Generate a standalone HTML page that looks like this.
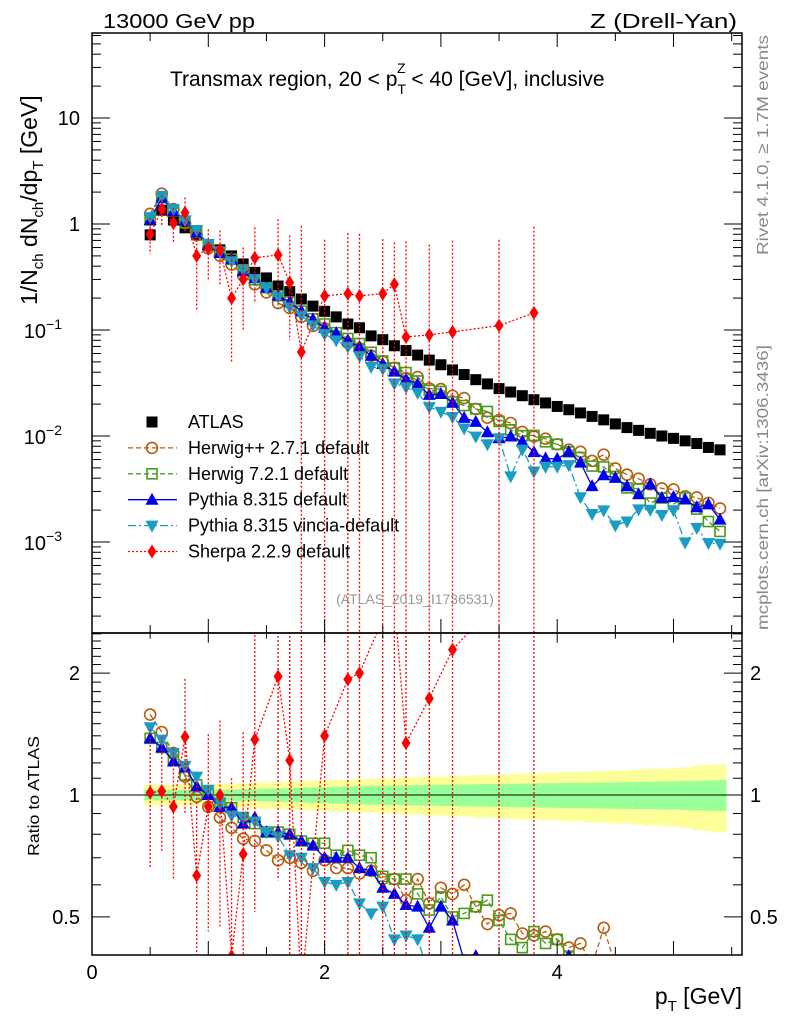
<!DOCTYPE html>
<html><head><meta charset="utf-8">
<style>
html,body{margin:0;padding:0;background:#fff;width:786px;height:1024px;overflow:hidden;}
svg{display:block;font-family:"Liberation Sans",sans-serif;}
</style></head>
<body>
<svg id="chart" width="786" height="1024" viewBox="0 0 786 1024" xmlns="http://www.w3.org/2000/svg" overflow="hidden">
<defs>
<clipPath id="clipMain"><rect x="92" y="33" width="650" height="600"/></clipPath>
<clipPath id="clipRatio"><rect x="92" y="633" width="650" height="322"/></clipPath>
</defs>
<rect x="0" y="0" width="786" height="1024" fill="#fff"/>
<g id="bandLayer" clip-path="url(#clipRatio)"></g>
<line x1="92" y1="795" x2="742" y2="795" stroke="#000" stroke-width="1"/>
<g id="mainLayer" clip-path="url(#clipMain)"></g>
<g id="ratioLayer" clip-path="url(#clipRatio)"></g>
<g id="axisLayer"></g>
<rect x="92" y="33" width="650" height="600" fill="none" stroke="#000" stroke-width="1.5"/>
<rect x="92" y="633" width="650" height="322" fill="none" stroke="#000" stroke-width="1.5"/>

<text x="103" y="28" font-size="20" textLength="152" lengthAdjust="spacingAndGlyphs">13000 GeV pp</text>
<text x="590" y="28" font-size="20" textLength="147" lengthAdjust="spacingAndGlyphs">Z (Drell-Yan)</text>
<text x="170" y="86" font-size="21">Transmax region, 20 &lt; p<tspan font-size="14" dy="8">T</tspan><tspan font-size="14" dx="-9" dy="-21">Z</tspan><tspan dy="13"> &lt; 40 [GeV], inclusive</tspan></text>
<text transform="translate(37,305) rotate(-90)" font-size="23">1/N<tspan font-size="15" dy="6">ch</tspan><tspan dy="-6"> dN</tspan><tspan font-size="15" dy="6">ch</tspan><tspan dy="-6">/dp</tspan><tspan font-size="15" dy="6">T</tspan><tspan dy="-6"> [GeV]</tspan></text>
<text transform="translate(39,856) rotate(-90)" font-size="16" textLength="120" lengthAdjust="spacingAndGlyphs">Ratio to ATLAS</text>
<text x="742" y="1004" font-size="23" text-anchor="end">p<tspan font-size="15" dy="7">T</tspan><tspan dy="-7"> [GeV]</tspan></text>
<text transform="translate(768,255) rotate(-90)" font-size="16" fill="#888" textLength="220" lengthAdjust="spacingAndGlyphs">Rivet 4.1.0, ≥ 1.7M events</text>
<text transform="translate(768,630) rotate(-90)" font-size="16" fill="#888" textLength="285" lengthAdjust="spacingAndGlyphs">mcplots.cern.ch [arXiv:1306.3436]</text>
<text x="415" y="604" font-size="14" fill="#999" text-anchor="middle">(ATLAS_2019_I1736531)</text>

<g id="legend"></g>

<script>
// ---- data ----
const atlasX = [0.5,0.6,0.7,0.8,0.9,1.0,1.1,1.2,1.3,1.4,1.5,1.6,1.7,1.8,1.9,2.0,2.1,2.2,2.3,2.4,2.5,2.6,2.7,2.8,2.9,3.0,3.1,3.2,3.3,3.4,3.5,3.6,3.7,3.8,3.9,4.0,4.1,4.2,4.3,4.4,4.5,4.6,4.7,4.8,4.9,5.0,5.1,5.2,5.3,5.4];
const atlasY = [0.79,1.35,1.09,0.92,0.79,0.63,0.57,0.50,0.42,0.35,0.31,0.26,0.23,0.196,0.168,0.15,0.133,0.114,0.105,0.088,0.081,0.071,0.064,0.058,0.052,0.047,0.042,0.038,0.034,0.031,0.028,0.026,0.024,0.022,0.0205,0.019,0.0177,0.0165,0.0153,0.0142,0.013,0.012,0.0113,0.0106,0.0100,0.0095,0.0090,0.0085,0.0078,0.0074];
const atlasTotRel = [0.06,0.06,0.06,0.06,0.06,0.06,0.065,0.065,0.07,0.07,0.075,0.075,0.08,0.08,0.085,0.085,0.09,0.09,0.095,0.095,0.10,0.10,0.105,0.105,0.11,0.11,0.115,0.115,0.12,0.12,0.125,0.125,0.13,0.13,0.135,0.135,0.14,0.14,0.145,0.145,0.15,0.15,0.155,0.16,0.16,0.165,0.17,0.18,0.185,0.19];
const atlasStatRel = [0.03,0.03,0.03,0.03,0.03,0.03,0.032,0.032,0.034,0.034,0.036,0.038,0.04,0.042,0.044,0.046,0.048,0.05,0.052,0.054,0.055,0.056,0.057,0.058,0.059,0.06,0.061,0.062,0.063,0.064,0.065,0.066,0.067,0.068,0.069,0.07,0.071,0.072,0.073,0.074,0.075,0.076,0.077,0.078,0.079,0.08,0.082,0.084,0.086,0.088];
const herwigppRatio = [1.58,1.43,1.27,1.11,0.99,0.935,0.88,0.83,0.78,0.77,0.73,0.69,0.70,0.68,0.65,0.69,0.66,0.66,0.64,0.65,0.62,0.62,0.55,0.62,0.54,0.59,0.57,0.60,0.53,0.48,0.505,0.51,0.455,0.45,0.46,0.44,0.42,0.43,0.38,0.47,0.38,0.36,0.35,0.33,0.32,0.33,0.30,0.31,0.30,0.28];
const herwig7Ratio = [1.38,1.31,1.22,1.12,1.06,1.01,0.955,0.93,0.88,0.85,0.81,0.81,0.80,0.77,0.76,0.76,0.71,0.73,0.71,0.70,0.63,0.62,0.62,0.57,0.52,0.56,0.50,0.51,0.53,0.55,0.49,0.44,0.42,0.46,0.43,0.44,0.40,0.38,0.34,0.36,0.32,0.27,0.28,0.22,0.26,0.24,0.29,0.24,0.20,0.17];
const pythiaRatio = [1.38,1.31,1.21,1.17,1.05,1.0,0.935,0.93,0.85,0.88,0.81,0.81,0.80,0.77,0.75,0.70,0.70,0.70,0.66,0.65,0.59,0.57,0.535,0.53,0.47,0.53,0.49,0.39,0.40,0.35,0.34,0.38,0.37,0.32,0.30,0.32,0.40,0.34,0.22,0.30,0.31,0.28,0.25,0.33,0.26,0.28,0.28,0.25,0.29,0.22];
const vinciaRatio = [1.47,1.37,1.27,1.18,1.11,1.03,0.955,0.89,0.88,0.86,0.81,0.79,0.71,0.70,0.66,0.61,0.60,0.61,0.54,0.51,0.53,0.44,0.45,0.44,0.36,0.36,0.36,0.31,0.29,0.27,0.34,0.16,0.31,0.21,0.25,0.27,0.30,0.16,0.12,0.14,0.11,0.13,0.18,0.19,0.18,0.21,0.11,0.16,0.125,0.13];
const sherpaX = [0.5,0.6,0.7,0.8,0.9,1.0,1.1,1.2,1.3,1.4,1.6,1.7,1.8,2.0,2.2,2.3,2.5,2.6,2.7,2.9,3.1,3.5,3.8];
const sherpaY = [0.80,1.38,1.02,1.28,0.50,0.59,0.57,0.20,0.30,0.48,0.51,0.28,0.062,0.21,0.22,0.21,0.22,0.27,0.086,0.09,0.096,0.11,0.145];
const sherpaErrUp = [0.35,0.5,0.4,0.5,0.35,0.3,0.3,0.35,0.3,0.45,0.6,0.5,0.9,0.5,0.6,0.6,0.5,0.4,0.6,0.55,0.6,0.6,0.8];
const sherpaErrDn = [0.28,0.4,0.35,0.45,0.35,0.3,0.3,0.15,0.2,0.3,0.35,0.2,0.062,0.21,0.22,0.21,0.22,0.27,0.086,0.09,0.096,0.11,0.145];
const xTickLabels = ["0","2","4"];
const ratioTickLabels = ["0.5","1","2"];

// ---- scales (clamped to stay inside the page) ----
const NS = "http://www.w3.org/2000/svg";
function X(v){ return 92 + 116.3*v; }
function Ym(v){ return v>0 ? Math.max(20, Math.min(660, 224 - 106*Math.log10(v))) : 660; }
function Yr(r){ return r>0 ? Math.max(600, Math.min(990, 795 - 405*Math.log10(r))) : 990; }
function mk(tag, attrs, parent){
  const e = document.createElementNS(NS, tag);
  for (const k in attrs) e.setAttribute(k, attrs[k]);
  parent.appendChild(e);
  return e;
}
const mainL = document.getElementById('mainLayer');
const ratioL = document.getElementById('ratioLayer');
const bandL = document.getElementById('bandLayer');
const axisL = document.getElementById('axisLayer');
const legL = document.getElementById('legend');

atlasX.forEach((x,i)=>{
  const x0 = X(x-0.05), w = X(x+0.05)-x0;
  const y1 = mk('rect',{x:x0,y:Yr(1+atlasTotRel[i]),width:w+0.5,height:Yr(1-atlasTotRel[i])-Yr(1+atlasTotRel[i]),fill:'#ffff99'},bandL);
  
  
  const y2 = mk('rect',{x:x0,y:Yr(1+atlasStatRel[i]),width:w+0.5,height:Yr(1-atlasStatRel[i])-Yr(1+atlasStatRel[i]),fill:'#99ff99'},bandL);
  
  
});

function marker(type, cx, cy, color, parent, name){
  let e;
  if (type==='square') e = mk('rect',{x:cx-5.5,y:cy-5.5,width:11,height:11,fill:'#000'},parent);
  else if (type==='circle') e = mk('circle',{cx:cx,cy:cy,r:5.5,fill:'none',stroke:color,'stroke-width':1.6},parent);
  else if (type==='osquare') e = mk('rect',{x:cx-5,y:cy-5,width:10,height:10,fill:'none',stroke:color,'stroke-width':1.6},parent);
  else if (type==='tri') e = mk('polygon',{points:`${cx},${cy-7} ${cx-6.5},${cy+5} ${cx+6.5},${cy+5}`,fill:color},parent);
  else if (type==='itri') e = mk('polygon',{points:`${cx},${cy+7} ${cx-6.5},${cy-5} ${cx+6.5},${cy-5}`,fill:color},parent);
  else e = mk('polygon',{points:`${cx},${cy-7} ${cx-4.5},${cy} ${cx},${cy+7} ${cx+4.5},${cy}`,fill:color},parent);
  
  
  return e;
}

atlasX.forEach((x,i)=>{ marker('square',X(x),Ym(atlasY[i]),'#000',mainL,'atlas-point'); });

const series = [
  {name:'herwigpp', r:herwigppRatio, color:'#b35f12', type:'circle', dash:'5,3'},
  {name:'herwig7', r:herwig7Ratio, color:'#4a9a1c', type:'osquare', dash:'5,3'},
  {name:'pythia', r:pythiaRatio, color:'#0000ee', type:'tri', dash:''},
  {name:'vincia', r:vinciaRatio, color:'#1a9dc2', type:'itri', dash:'8,3,2,3'},
];
series.forEach(s=>{
  const mainPts = atlasX.map((x,i)=>`${X(x)},${Ym(s.r[i]*atlasY[i])}`).join(' ');
  const l1 = mk('polyline',{points:mainPts,fill:'none',stroke:s.color,'stroke-width':1.3,'stroke-dasharray':s.dash},mainL);
  
  
  const ratioPts = atlasX.map((x,i)=>`${X(x)},${Yr(s.r[i])}`).join(' ');
  const l2 = mk('polyline',{points:ratioPts,fill:'none',stroke:s.color,'stroke-width':1.3,'stroke-dasharray':s.dash},ratioL);
  
  
  atlasX.forEach((x,i)=>{
    marker(s.type,X(x),Ym(s.r[i]*atlasY[i]),s.color,mainL,s.name+'-point');
    if (s.r[i] > 0.37) marker(s.type,X(x),Yr(s.r[i]),s.color,ratioL,s.name+'-ratio-point');
  });
});

const shMain = sherpaX.map((x,i)=>`${X(x)},${Ym(sherpaY[i])}`).join(' ');
const shl = mk('polyline',{points:shMain,fill:'none',stroke:'#ff0000','stroke-width':1.3,'stroke-dasharray':'2,2'},mainL);


const shR = sherpaX.map((x,i)=>`${X(x)},${Yr(sherpaY[i]/atlasY[atlasX.indexOf(x)])}`).join(' ');
const shl2 = mk('polyline',{points:shR,fill:'none',stroke:'#ff0000','stroke-width':1.3,'stroke-dasharray':'2,2'},ratioL);


sherpaX.forEach((x,i)=>{
  const a = atlasY[atlasX.indexOf(x)];
  const up = sherpaY[i]+sherpaErrUp[i], dn = sherpaY[i]-sherpaErrDn[i];
  const e1 = mk('line',{x1:X(x),x2:X(x),y1:Ym(up),y2:Ym(dn),stroke:'#ff0000','stroke-width':1.3,'stroke-dasharray':'2,2'},mainL);
  
  
  const e2 = mk('line',{x1:X(x),x2:X(x),y1:Yr(up/a),y2:Yr(dn/a),stroke:'#ff0000','stroke-width':1.3,'stroke-dasharray':'2,2'},ratioL);
  
  
  marker('diamond',X(x),Ym(sherpaY[i]),'#ff0000',mainL,'sherpa-point');
  const r = sherpaY[i]/a;
  if (r > 0.37 && r < 2.6) marker('diamond',X(x),Yr(r),'#ff0000',ratioL,'sherpa-ratio-point');
});

function tick(x1,y1,x2,y2,name){
  const t = mk('line',{x1:x1,y1:y1,x2:x2,y2:y2,stroke:'#000','stroke-width':1},axisL);
  
  
}
function label(x,y,txt,anchor,size,name){
  const t = mk('text',{x:x,y:y,'text-anchor':anchor,'font-size':size},axisL);
  t.textContent = txt;
  
  
  return t;
}
for (let v=0; v<=5.5001; v+=0.5){
  const major = Math.abs(v-Math.round(v))<0.01;
  const L = major?14:8;
  tick(X(v),955,X(v),955-L,'x-tick');
  tick(X(v),633,X(v),633-L,'x-tick');
  tick(X(v),633,X(v),633+L*0.7,'x-tick');
  tick(X(v),33,X(v),33+L,'x-tick');
}
xTickLabels.forEach(s=>{ label(X(+s),979,s,'middle',20,'x-tick-label'); });
for (let d=-4; d<=1; d++){
  for (let m=1; m<=9; m++){
    const v = m*Math.pow(10,d);
    const y = 224 - 106*Math.log10(v);
    if (y<33 || y>633) continue;
    const L = m===1?18:9;
    tick(92,y,92+L,y,'y-tick');
    tick(742,y,742-L,y,'y-tick');
  }
}
label(80,125,'10','end',20,'y-tick-label-10');
label(80,231,'1','end',20,'y-tick-label-1');
[-1,-2,-3].forEach(p=>{
  const t = label(62,Ym(Math.pow(10,p))+8,'10','end',20,'y-tick-label');
  const s = document.createElementNS(NS,'tspan');
  s.setAttribute('font-size','14'); s.setAttribute('dy','-9');
  s.textContent = '−'+(-p);
  t.appendChild(s);
});
[0.4,0.5,0.6,0.7,0.8,0.9,1.0,1.1,1.2,1.3,1.4,1.5,1.6,1.7,1.8,1.9,2.0,2.1,2.2,2.3,2.4,2.5].forEach(r=>{
  const y = 795 - 405*Math.log10(r);
  if (y<633 || y>955) return;
  const major = (r===0.5||r===1.0||r===2.0);
  const L = major?18:9;
  tick(92,y,92+L,y,'ratio-y-tick');
  tick(742,y,742-L,y,'ratio-y-tick');
});
ratioTickLabels.forEach(s=>{
  label(80,Yr(+s)+7,s,'end',20,'ratio-tick-label-left');
  label(750,Yr(+s)+7,s,'start',20,'ratio-tick-label-right');
});

const legItems = [
  {t:'ATLAS', type:'square', c:'#000', dash:null},
  {t:'Herwig++ 2.7.1 default', type:'circle', c:'#b35f12', dash:'5,3'},
  {t:'Herwig 7.2.1 default', type:'osquare', c:'#4a9a1c', dash:'5,3'},
  {t:'Pythia 8.315 default', type:'tri', c:'#0000ee', dash:''},
  {t:'Pythia 8.315 vincia-default', type:'itri', c:'#1a9dc2', dash:'8,3,2,3'},
  {t:'Sherpa 2.2.9 default', type:'diamond', c:'#ff0000', dash:'2,2'},
];
legItems.forEach((it,i)=>{
  const y = 422 + 25.9*i;
  if (it.dash!==null){
    const l = mk('line',{x1:128,x2:177,y1:y,y2:y,stroke:it.c,'stroke-width':1.3,'stroke-dasharray':it.dash},legL);
    
    
  }
  marker(it.type,152,y,it.c,legL,'legend-marker');
  const t = mk('text',{x:188,y:y+6,'font-size':18},legL);
  t.textContent = it.t;
  
  
});
</script>
</svg>
</body></html>
